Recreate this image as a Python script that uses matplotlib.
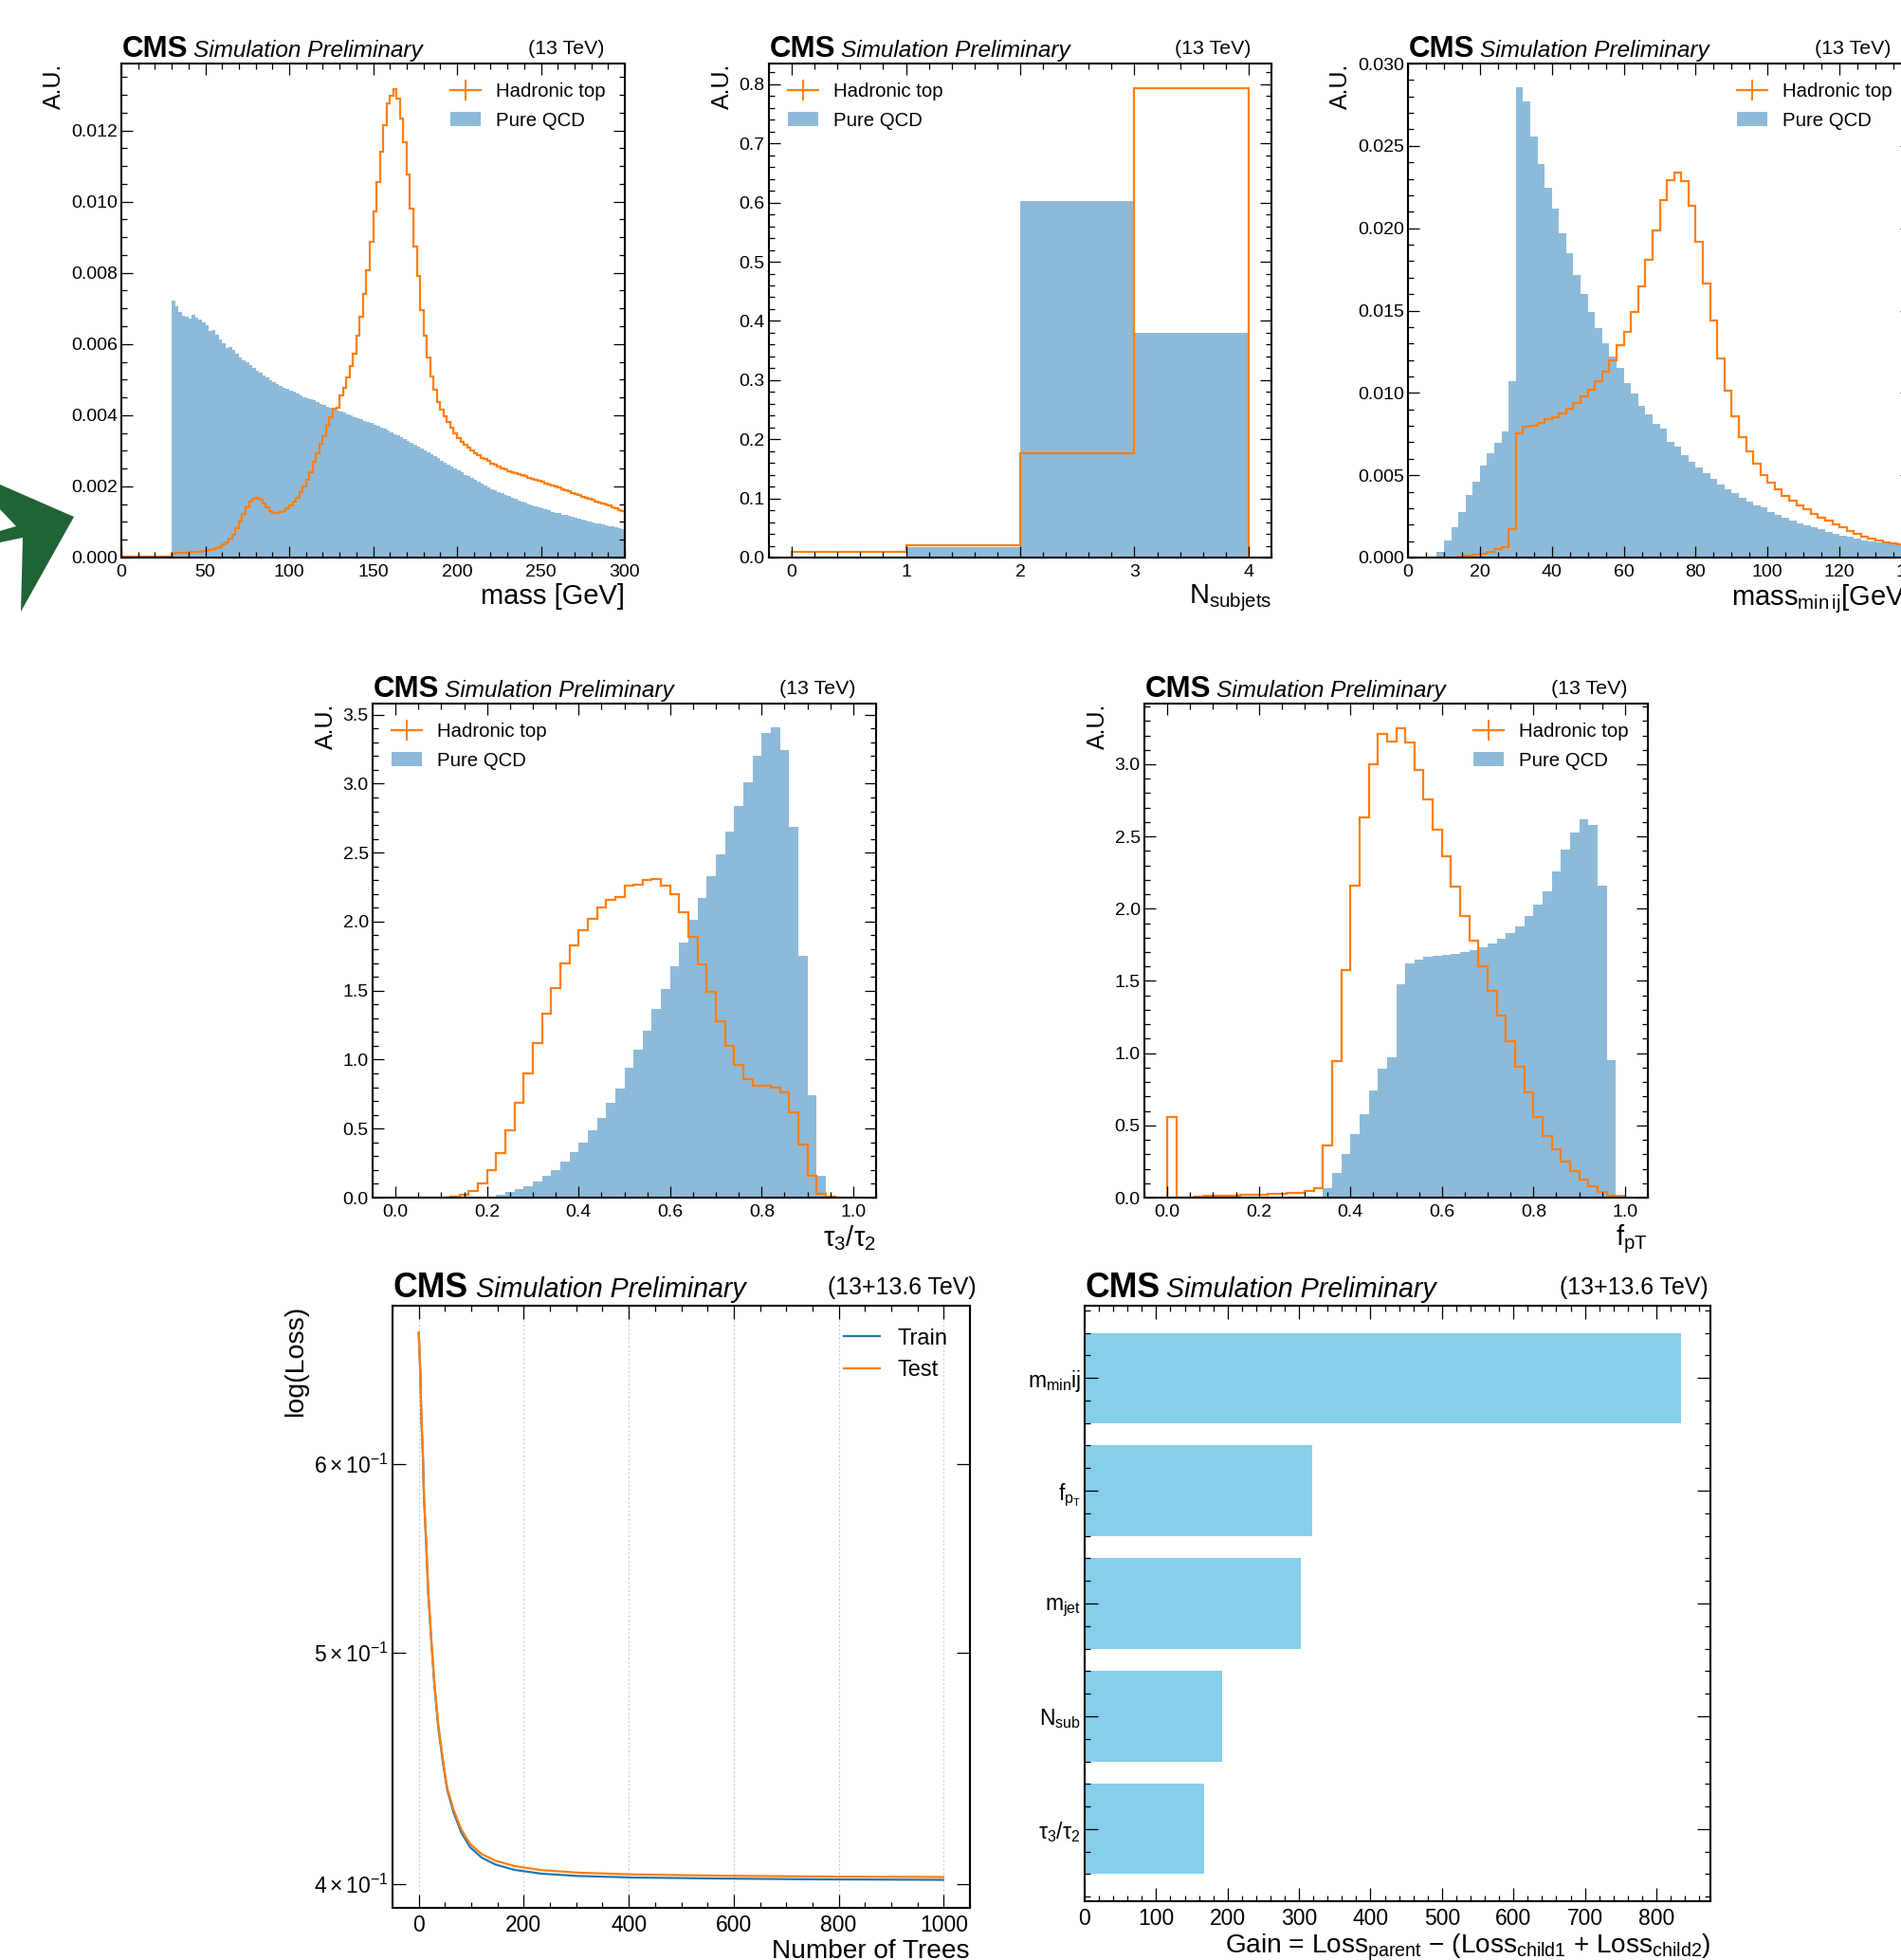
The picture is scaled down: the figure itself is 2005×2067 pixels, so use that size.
import matplotlib
matplotlib.use("Agg")
import numpy as np
import matplotlib.pyplot as plt
import matplotlib.transforms as mtransforms
from matplotlib import rcParams
from matplotlib.lines import Line2D
from matplotlib.patches import Patch, Polygon
from matplotlib.ticker import AutoMinorLocator, FixedLocator, FixedFormatter, NullLocator, NullFormatter

# --- fonts: Helvetica-like, upright mathtext (CMS style) ---
rcParams["font.family"] = ["Liberation Sans", "DejaVu Sans"]
rcParams["mathtext.fontset"] = "custom"
rcParams["mathtext.rm"] = "Liberation Sans"
rcParams["mathtext.it"] = "Liberation Sans:italic"
rcParams["mathtext.bf"] = "Liberation Sans:bold"
rcParams["mathtext.default"] = "regular"

ORANGE = "#ff7f0e"
BLUE = "#1f77b4"

# =========================
# data
# =========================
# jet mass, 2 GeV bins 0-300
MASS_EDGES = np.linspace(0, 300, 151)
MASS_TOP = [
    0.00002, 0.00002, 0.00002, 0.00002, 0.00002, 0.00002, 0.00002, 0.00002, 0.00002, 0.00002,
    0.00002, 0.00002, 0.00002, 0.00002, 0.00002, 0.00011, 0.00012, 0.00013, 0.00013, 0.00014,
    0.00015, 0.00015, 0.00016, 0.00017, 0.00018, 0.00019, 0.00021, 0.00023, 0.00026, 0.00030,
    0.00036, 0.00043, 0.00053, 0.00065, 0.00082, 0.00101, 0.00123, 0.00142, 0.00157, 0.00166,
    0.00168, 0.00163, 0.00151, 0.00140, 0.00131, 0.00126, 0.00125, 0.00127, 0.00131, 0.00138,
    0.00146, 0.00156, 0.00168, 0.00183, 0.00199, 0.00219, 0.00241, 0.00269, 0.00292, 0.00320,
    0.00342, 0.00370, 0.00393, 0.00418, 0.00421, 0.00456, 0.00477, 0.00505, 0.00538, 0.00572,
    0.00623, 0.00676, 0.00740, 0.00808, 0.00886, 0.00973, 0.01054, 0.01139, 0.01215, 0.01275,
    0.01298, 0.01316, 0.01290, 0.01234, 0.01167, 0.01077, 0.00981, 0.00875, 0.00791, 0.00695,
    0.00623, 0.00561, 0.00510, 0.00471, 0.00437, 0.00415, 0.00398, 0.00381, 0.00365, 0.00350,
    0.00337, 0.00325, 0.00316, 0.00308, 0.00301, 0.00294, 0.00287, 0.00281, 0.00276, 0.00271,
    0.00265, 0.00260, 0.00255, 0.00251, 0.00247, 0.00243, 0.00240, 0.00237, 0.00234, 0.00231,
    0.00228, 0.00225, 0.00222, 0.00219, 0.00216, 0.00213, 0.00209, 0.00205, 0.00202, 0.00199,
    0.00197, 0.00193, 0.00190, 0.00186, 0.00182, 0.00178, 0.00175, 0.00171, 0.00168, 0.00165,
    0.00162, 0.00158, 0.00155, 0.00152, 0.00149, 0.00146, 0.00142, 0.00138, 0.00134, 0.00130,
]
MASS_QCD = [
    0, 0, 0, 0, 0, 0, 0, 0, 0, 0,
    0, 0, 0, 0, 0, 0.00721, 0.00705, 0.00690, 0.00680, 0.00677,
    0.00672, 0.00681, 0.00675, 0.00668, 0.00660, 0.00652, 0.00636, 0.00640, 0.00626, 0.00614,
    0.00602, 0.00588, 0.00592, 0.00583, 0.00574, 0.00563, 0.00555, 0.00548, 0.00540, 0.00533,
    0.00526, 0.00519, 0.00512, 0.00505, 0.00498, 0.00492, 0.00487, 0.00481, 0.00477, 0.00473,
    0.00470, 0.00466, 0.00461, 0.00455, 0.00451, 0.00448, 0.00445, 0.00441, 0.00436, 0.00432,
    0.00428, 0.00424, 0.00420, 0.00416, 0.00413, 0.00410, 0.00407, 0.00403, 0.00399, 0.00395,
    0.00391, 0.00388, 0.00384, 0.00380, 0.00377, 0.00373, 0.00369, 0.00365, 0.00361, 0.00357,
    0.00352, 0.00347, 0.00343, 0.00338, 0.00333, 0.00328, 0.00322, 0.00317, 0.00312, 0.00306,
    0.00300, 0.00295, 0.00290, 0.00284, 0.00279, 0.00273, 0.00267, 0.00262, 0.00256, 0.00250,
    0.00244, 0.00239, 0.00233, 0.00228, 0.00223, 0.00218, 0.00213, 0.00208, 0.00203, 0.00198,
    0.00193, 0.00189, 0.00184, 0.00180, 0.00176, 0.00172, 0.00168, 0.00164, 0.00160, 0.00157,
    0.00154, 0.00150, 0.00147, 0.00144, 0.00141, 0.00138, 0.00135, 0.00132, 0.00129, 0.00126,
    0.00124, 0.00121, 0.00119, 0.00116, 0.00114, 0.00111, 0.00109, 0.00106, 0.00104, 0.00102,
    0.00099, 0.00097, 0.00095, 0.00093, 0.00091, 0.00089, 0.00087, 0.00085, 0.00083, 0.00080,
]

# number of subjets, unit bins 0-4
NSUB_EDGES = [0, 1, 2, 3, 4]
NSUB_TOP = [0.0101, 0.0203, 0.177, 0.793]
NSUB_QCD = [0.0, 0.018, 0.602, 0.380]

# min pairwise subjet mass, 2 GeV bins 0-140
MINIJ_EDGES = np.linspace(0, 140, 71)
MINIJ_TOP = [
    0, 0, 0, 0, 0, 0, 0, 0.00007, 0.00012, 0.00017,
    0.00024, 0.00036, 0.00049, 0.00066, 0.00170, 0.00753, 0.00794, 0.00802, 0.00819, 0.00838,
    0.00855, 0.00875, 0.00906, 0.00940, 0.00977, 0.01020, 0.01069, 0.01130, 0.01198, 0.01288,
    0.01373, 0.01494, 0.01645, 0.01810, 0.01987, 0.02170, 0.02291, 0.02340, 0.02284, 0.02135,
    0.01919, 0.01664, 0.01438, 0.01210, 0.01013, 0.00858, 0.00729, 0.00644, 0.00571, 0.00503,
    0.00454, 0.00413, 0.00377, 0.00347, 0.00316, 0.00292, 0.00267, 0.00243, 0.00224, 0.00202,
    0.00182, 0.00163, 0.00146, 0.00129, 0.00114, 0.00104, 0.00095, 0.00085, 0.00078, 0.00070,
]
MINIJ_QCD = [
    0, 0, 0, 0, 0.00036, 0.00104, 0.00182, 0.00279, 0.00381, 0.00462,
    0.00559, 0.00632, 0.00697, 0.00765, 0.01069, 0.02855, 0.02770, 0.02558, 0.02388, 0.02247,
    0.02118, 0.01968, 0.01846, 0.01718, 0.01599, 0.01494, 0.01392, 0.01300, 0.01220, 0.01149,
    0.01062, 0.00996, 0.00923, 0.00867, 0.00814, 0.00785, 0.00705, 0.00673, 0.00624, 0.00583,
    0.00547, 0.00510, 0.00479, 0.00445, 0.00413, 0.00389, 0.00364, 0.00340, 0.00316, 0.00304,
    0.00279, 0.00260, 0.00243, 0.00226, 0.00207, 0.00194, 0.00182, 0.00170, 0.00158, 0.00146,
    0.00134, 0.00126, 0.00114, 0.00104, 0.00097, 0.00090, 0.00085, 0.00078, 0.00073, 0.00066,
]

# tau3/tau2, 0.02 bins
UNIT_EDGES = np.linspace(0, 1, 51)
TAU_TOP = [
    0, 0, 0, 0, 0, 0, 0.005, 0.02, 0.05, 0.10,
    0.20, 0.32, 0.49, 0.69, 0.90, 1.12, 1.33, 1.52, 1.70, 1.83,
    1.94, 2.02, 2.10, 2.16, 2.18, 2.26, 2.27, 2.30, 2.31, 2.26,
    2.20, 2.07, 1.89, 1.69, 1.49, 1.28, 1.10, 0.96, 0.86, 0.81,
    0.81, 0.80, 0.76, 0.62, 0.385, 0.155, 0.03, 0.005, 0, 0,
]
TAU_QCD = [
    0, 0, 0, 0, 0, 0, 0, 0, 0, 0.005,
    0.01, 0.02, 0.04, 0.06, 0.085, 0.12, 0.16, 0.20, 0.26, 0.33,
    0.40, 0.49, 0.58, 0.69, 0.79, 0.94, 1.07, 1.21, 1.37, 1.51,
    1.68, 1.85, 2.01, 2.17, 2.33, 2.49, 2.65, 2.84, 3.01, 3.20,
    3.37, 3.41, 3.24, 2.69, 1.75, 0.74, 0.155, 0.01, 0, 0,
]

# f_pT, 0.02 bins
FPT_TOP = [
    0.556, 0, 0, 0.008, 0.010, 0.012, 0.014, 0.016, 0.018, 0.020,
    0.022, 0.025, 0.028, 0.031, 0.036, 0.043, 0.065, 0.362, 0.945, 1.577,
    2.16, 2.63, 3.00, 3.21, 3.16, 3.25, 3.15, 2.96, 2.76, 2.55,
    2.36, 2.15, 1.95, 1.78, 1.60, 1.43, 1.26, 1.08, 0.905, 0.73,
    0.556, 0.427, 0.333, 0.247, 0.185, 0.126, 0.080, 0.038, 0.013, 0.005,
]
FPT_QCD = [
    0, 0, 0, 0, 0, 0, 0, 0, 0, 0,
    0, 0, 0, 0, 0, 0, 0, 0.064, 0.17, 0.30,
    0.44, 0.58, 0.74, 0.89, 0.97, 1.475, 1.62, 1.645, 1.665, 1.675,
    1.68, 1.685, 1.70, 1.715, 1.735, 1.76, 1.79, 1.83, 1.88, 1.95,
    2.03, 2.12, 2.26, 2.41, 2.53, 2.62, 2.58, 2.16, 0.953, 0.02,
]

# BDT loss vs number of trees
TREES = [0, 3, 5, 8, 10, 14, 18, 24, 30, 37, 46, 54, 66, 81, 98, 120, 146, 182, 234, 304, 410, 585, 760, 999]
LOSS_TRAIN = [0.681, 0.655, 0.627, 0.6035, 0.5805, 0.556, 0.530, 0.5055, 0.4842, 0.4658, 0.4499, 0.4383,
              0.4289, 0.4205, 0.4145, 0.4104, 0.4077, 0.4056, 0.4041, 0.4032, 0.4026, 0.4022, 0.4019, 0.4017]
LOSS_TEST = [0.681, 0.655, 0.628, 0.604, 0.581, 0.557, 0.531, 0.506, 0.485, 0.467, 0.451, 0.439,
             0.430, 0.4217, 0.4158, 0.4118, 0.4092, 0.4071, 0.4055, 0.4045, 0.4038, 0.4033, 0.4030, 0.4028]

# feature importance (gain)
FEATURES = [r"$\tau_{3}/\tau_{2}$", r"$N_{sub}$", r"$m_{jet}$", r"$f_{p_{T}}$", r"$m_{min}ij$"]
GAIN = [167, 192, 302, 318, 834]

# green arrow cut off at the left edge (image pixels, top-left origin)
ARROW_XY = [(0, 511), (78, 545), (22, 645), (24, 567), (0, 572), (0, 560), (17, 555), (0, 537)]

# =========================
W, H = 2005, 2067
fig = plt.figure(figsize=(W / 100, H / 100), dpi=100)

SMALL = dict(cms=22.5, sim=17.6, r=15.4, tick=14, xlab=21, ylab=18, leg=14.7, major=8.4, minor=4.0)
BIG = dict(cms=25.7, sim=20.6, r=17.9, tick=16.5, xlab=20.2, ylab=20.5, leg=17, major=9.9, minor=4.3)


def add_axes(left, top, right, bottom):
    return fig.add_axes([left / W, 1 - bottom / H, (right - left) / W, (bottom - top) / H])


def style(ax, sz, minor_y=True):
    ax.tick_params(which="both", direction="in", top=True, right=True,
                   labelsize=sz["tick"], width=0.9)
    ax.tick_params(which="major", length=sz["major"])
    ax.tick_params(which="minor", length=sz["minor"])
    ax.tick_params(axis="x", pad=5)
    ax.tick_params(axis="y", pad=3)
    for s in ax.spines.values():
        s.set_linewidth(1.5)
    ax.xaxis.set_minor_locator(AutoMinorLocator())
    if minor_y:
        ax.yaxis.set_minor_locator(AutoMinorLocator())


def cms_label(ax, rlabel, sz, dx_sim, dy=7, dy_r=10, dx_r=-22):
    def tr(dx, dyy):
        return mtransforms.offset_copy(ax.transAxes, fig=fig, x=dx, y=dyy, units="dots")
    ax.text(0, 1, "CMS", fontsize=sz["cms"], fontweight="bold", transform=tr(1, dy),
            ha="left", va="baseline")
    ax.text(0, 1, "Simulation Preliminary", fontsize=sz["sim"], style="italic",
            transform=tr(dx_sim, dy), ha="left", va="baseline")
    ax.text(1, 1, rlabel, fontsize=sz["r"], transform=tr(dx_r, dy_r), ha="right", va="baseline")


def hist_panel(ax, edges, top, qcd, xlim, ylim, xlabel, loc):
    ax.stairs(qcd, edges, fill=True, color=BLUE, alpha=0.5, linewidth=0)
    ax.stairs(top, edges, baseline=0, color=ORANGE, linewidth=1.6)
    ax.set_xlim(*xlim)
    ax.set_ylim(*ylim)
    style(ax, SMALL)
    ax.set_xlabel(xlabel, loc="right", fontsize=SMALL["xlab"], labelpad=2)
    ax.set_ylabel("A.U.", loc="top", fontsize=SMALL["ylab"])
    handles = [Line2D([], [], color=ORANGE, lw=1.6, marker="|", ms=16, mew=1.4),
               Patch(facecolor=BLUE, alpha=0.5, edgecolor="none")]
    ax.legend(handles, ["Hadronic top", "Pure QCD"], loc=loc, frameon=False,
              fontsize=SMALL["leg"], handlelength=1.55, handletextpad=0.8,
              labelspacing=0.55, borderpad=0.5, numpoints=1)
    cms_label(ax, "(13 TeV)", SMALL, dx_sim=76)


# --- top row ---
ax1 = add_axes(128, 67, 659, 588)
hist_panel(ax1, MASS_EDGES, MASS_TOP, MASS_QCD, (0, 300), (0, 0.01388), "mass [GeV]", "upper right")

ax2 = add_axes(811, 67, 1341, 588)
hist_panel(ax2, NSUB_EDGES, NSUB_TOP, NSUB_QCD, (-0.2, 4.2), (0, 0.835), r"N$_{subjets}$", "upper left")
ax2.xaxis.set_major_locator(FixedLocator([0, 1, 2, 3, 4]))
ax2.xaxis.set_minor_locator(AutoMinorLocator())

ax3 = add_axes(1485, 67, 2016, 588)
hist_panel(ax3, MINIJ_EDGES, MINIJ_TOP, MINIJ_QCD, (0, 140), (0, 0.030), r"mass$_{min\,ij}$[GeV]", "upper right")

# --- middle row ---
ax4 = add_axes(393, 742, 924, 1263)
hist_panel(ax4, UNIT_EDGES, TAU_TOP, TAU_QCD, (-0.05, 1.05), (0, 3.58), r"$\tau_{3}/\tau_{2}$", "upper left")

ax5 = add_axes(1207, 742, 1738, 1263)
hist_panel(ax5, UNIT_EDGES, FPT_TOP, FPT_QCD, (-0.05, 1.05), (0, 3.42), r"$f_{pT}$", "upper right")

# --- loss curve ---
ax6 = add_axes(414, 1377, 1023, 2012)
ax6.plot(TREES, LOSS_TRAIN, color=BLUE, lw=1.6, label="Train")
ax6.plot(TREES, LOSS_TEST, color=ORANGE, lw=1.6, label="Test")
ax6.set_yscale("log")
ax6.set_xlim(-50, 1050)
ax6.set_ylim(0.391, 0.699)
ax6.yaxis.set_major_locator(FixedLocator([0.4, 0.5, 0.6]))
ax6.yaxis.set_major_formatter(FixedFormatter([r"$4\times10^{-1}$", r"$5\times10^{-1}$", r"$6\times10^{-1}$"]))
ax6.yaxis.set_minor_locator(NullLocator())
ax6.yaxis.set_minor_formatter(NullFormatter())
style(ax6, BIG, minor_y=False)
ax6.grid(axis="x", color="#cccccc", lw=0.8, ls=(0, (2, 2)))
ax6.set_xlabel("Number of Trees", loc="right", fontsize=BIG["xlab"], labelpad=2)
ax6.set_ylabel("log(Loss)", loc="top", fontsize=BIG["ylab"])
ax6.legend(loc="upper right", frameon=False, fontsize=BIG["leg"], handlelength=1.6,
           handletextpad=0.8, labelspacing=0.5, borderpad=0.5)
cms_label(ax6, "(13+13.6 TeV)", BIG, dx_sim=88, dy=9.5, dy_r=12, dx_r=7)

# --- feature importance ---
ax7 = add_axes(1144, 1377, 1804, 2005)
ypos = np.arange(len(FEATURES))
ax7.barh(ypos, GAIN, color="skyblue", height=0.8)
ax7.set_yticks(ypos, FEATURES)
style(ax7, BIG)
ax7.set_xlabel(r"Gain = Loss$_{parent}$ $-$ (Loss$_{child1}$ + Loss$_{child2}$)", loc="right",
               fontsize=BIG["xlab"], labelpad=2)
cms_label(ax7, "(13+13.6 TeV)", BIG, dx_sim=86, dy=9.5, dy_r=12, dx_r=-2)

# --- arrow fragment ---
fig.add_artist(Polygon([(x / W, 1 - y / H) for x, y in ARROW_XY], closed=True,
                       transform=fig.transFigure, facecolor="#1f6337", edgecolor="none"))

fig.savefig("out.png", dpi=100)
